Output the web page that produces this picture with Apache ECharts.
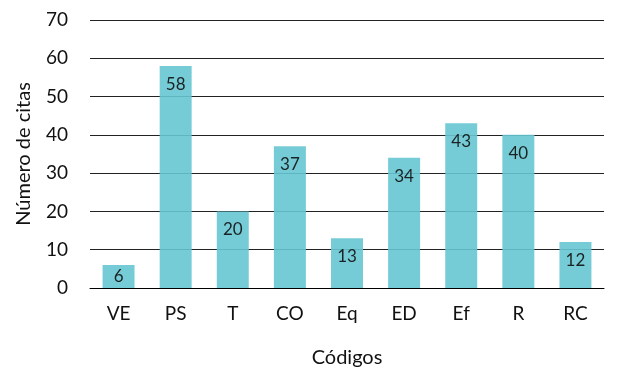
<!DOCTYPE html>
<html>
<head>
<meta charset="utf-8">
<script src="https://cdn.jsdelivr.net/npm/echarts@6/dist/echarts.min.js"></script>
<style>
  html, body { margin: 0; padding: 0; background: #fff; }
  #chart { width: 631px; height: 382px; }
</style>
</head>
<body>
<div id="chart"></div>
<script>
  const categories = ['VE', 'PS', 'T', 'CO', 'Eq', 'ED', 'Ef', 'R', 'RC'];
  const citas = [6, 58, 20, 37, 13, 34, 43, 40, 12];

  const chart = echarts.init(document.getElementById('chart'));
  const font = 'Lato, "Noto Sans", sans-serif';

  // short bars get their label centred, others sit near the top
  const barData = citas.map(v => v < 10 ? { value: v, label: { position: 'inside' } } : v);

  chart.setOption({
    animation: false,
    textStyle: { fontFamily: font },
    grid: { left: 90, right: 27, top: 20, bottom: 94 },
    xAxis: {
      type: 'category',
      data: categories,
      name: 'Códigos',
      nameLocation: 'middle',
      nameGap: 60,
      nameTextStyle: { fontSize: 20, color: '#111', fontFamily: font },
      axisLine: { lineStyle: { color: '#000', width: 1 } },
      axisTick: { show: false },
      axisLabel: { fontSize: 19, color: '#111', margin: 16, fontFamily: font }
    },
    yAxis: {
      type: 'value',
      min: 0,
      max: 70,
      interval: 10,
      name: 'Número de citas',
      nameLocation: 'middle',
      nameGap: 56,
      nameTextStyle: { fontSize: 20, color: '#111', fontFamily: font },
      axisLine: { show: false },
      axisTick: { show: false },
      axisLabel: { fontSize: 19, color: '#111', margin: 22, fontFamily: font },
      splitLine: { lineStyle: { color: '#222', width: 1 } }
    },
    series: [{
      type: 'bar',
      data: barData,
      barWidth: '56%',
      itemStyle: { color: 'rgb(103,199,209)', opacity: 0.9 },
      label: {
        show: true,
        position: 'insideTop',
        distance: 10,
        fontSize: 17,
        color: '#111',
        fontFamily: font
      }
    }]
  });
</script>
</body>
</html>
